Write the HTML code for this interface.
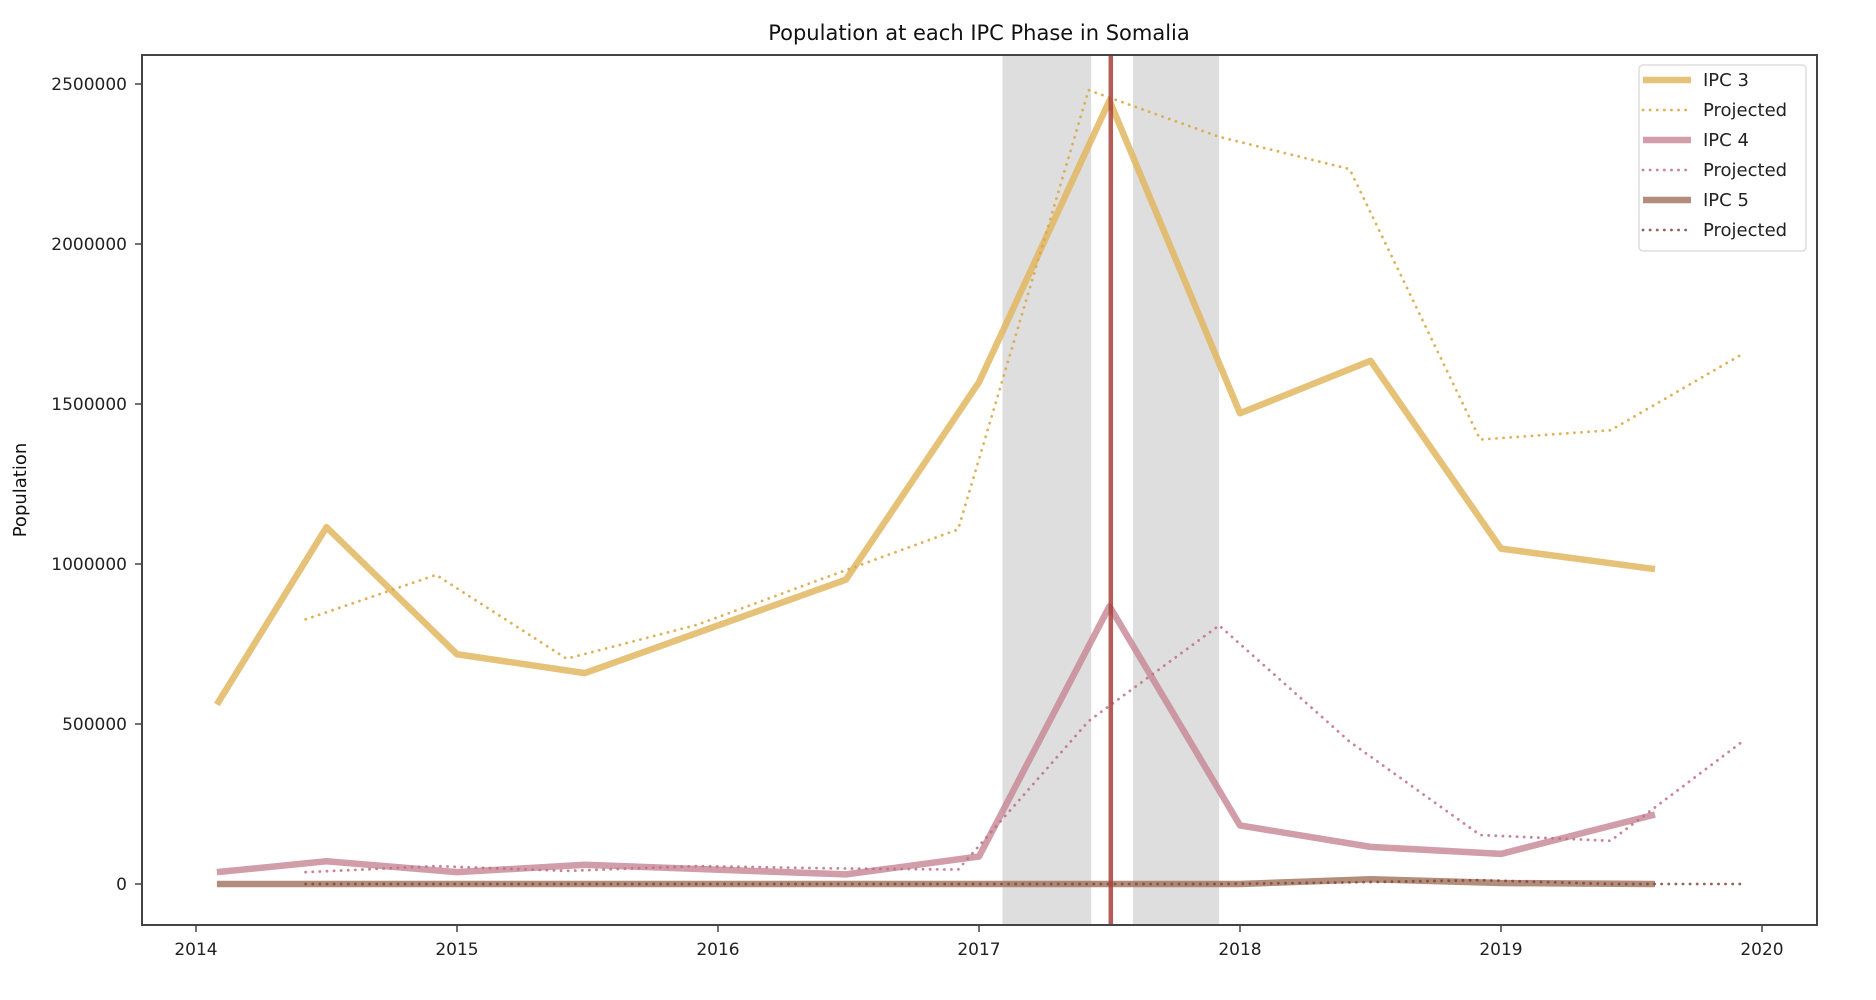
<!DOCTYPE html>
<html><head><meta charset="utf-8"><style>
body{margin:0;background:#fff;}
svg{display:block;font-family:"DejaVu Sans","Liberation Sans",sans-serif;}
</style></head><body>
<svg id="chart" width="1876" height="1000" viewBox="0 0 1876 1000">
<rect width="1876" height="1000" fill="#fff"/>
<text x="979" y="40" text-anchor="middle" font-size="21" fill="#111">Population at each IPC Phase in Somalia</text>
<g id="spans"></g>
<g id="grid"></g>
<g id="series"></g>
<rect x="142" y="55" width="1675" height="870" fill="none" stroke="#444" stroke-width="2"/>
<g id="ticks"></g>
<text transform="translate(26,490) rotate(-90)" text-anchor="middle" font-size="18" fill="#111">Population</text>
<g id="legend">
<rect x="1639" y="65" width="167" height="186" rx="4" fill="#fff" fill-opacity="0.85" stroke="#ddd" stroke-width="1.5"/>
</g>
</svg>
<script>
const solidYears3=[2014.08,2014.5,2015.0,2015.49,2016.49,2017.0,2017.5,2018.0,2018.5,2019.0,2019.59];
const ipc3=[561000,1115000,718000,659000,951000,1568000,2448000,1471000,1635000,1048000,984000];
const ipc4=[37000,71000,37000,60000,30000,86000,868000,183000,116000,94000,217000];
const ipc5=[0,0,0,0,0,0,0,0,15000,3000,0];
const projYears=[2014.42,2014.92,2015.42,2015.92,2016.42,2016.92,2017.42,2017.92,2018.42,2018.92,2019.42,2019.92];
const proj3=[827000,966000,704000,810000,960000,1108000,2481000,2335000,2234000,1389000,1418000,1654000];
const proj4=[37000,56000,41000,56000,49000,45000,509000,808000,445000,153000,135000,442000];
const proj5=[0,0,0,0,0,0,0,0,5000,12000,0,0];
const spanRanges=[[2017.09,2017.43],[2017.59,2017.92]];
const markerYear=2017.505;
const xTicks=[2014,2015,2016,2017,2018,2019,2020];
const yTicks=[0,500000,1000000,1500000,2000000,2500000];
const NS="http://www.w3.org/2000/svg";
const X=y=>196+(y-2014)*261;
const Y=v=>884-v*(800/2500000);
function mk(tag,attrs,parent){const e=document.createElementNS(NS,tag);for(const k in attrs)e.setAttribute(k,attrs[k]);parent.appendChild(e);return e;}
const spans=document.getElementById('spans');
spanRanges.forEach((r,i)=>{
 const e=mk('rect',{x:X(r[0]),y:55,width:X(r[1])-X(r[0]),height:870,fill:'#808080','fill-opacity':0.26},spans);
 
 
});
const ser=document.getElementById('series');
function line(xs,vs,color,w,dash,name){
 const p=mk('polyline',{points:xs.map((x,i)=>X(x)+','+Y(vs[i])).join(' '),fill:'none',stroke:color,'stroke-width':w,'stroke-linejoin':'round','stroke-linecap':dash?'round':'butt'},ser);
 if(dash)p.setAttribute('stroke-dasharray',dash);
 
 
}
line(solidYears3,ipc3,'rgba(226,182,96,0.85)',6.5,null,'ipc3-line');
line(projYears,proj3,'rgba(220,168,70,0.9)',2.8,'0.1 7','ipc3-projected-line');
line(solidYears3,ipc4,'rgba(198,132,146,0.8)',6.5,null,'ipc4-line');
line(projYears,proj4,'rgba(192,110,130,0.85)',2.8,'0.1 7','ipc4-projected-line');
line(solidYears3,ipc5,'rgba(160,112,90,0.8)',6.5,null,'ipc5-line');
line(projYears,proj5,'rgba(130,70,60,0.85)',2.8,'0.1 7','ipc5-projected-line');
const ml=mk('line',{x1:X(markerYear),x2:X(markerYear),y1:55,y2:925,stroke:'#a8403c','stroke-opacity':0.85,'stroke-width':4.5},ser);


const tk=document.getElementById('ticks');
xTicks.forEach(t=>{
 mk('line',{x1:X(t),x2:X(t),y1:925,y2:932,stroke:'#444','stroke-width':1.5},tk);
 const e=mk('text',{x:X(t),y:955,'text-anchor':'middle','font-size':17,fill:'#222'},tk);
 e.textContent=t;
 
 
});
yTicks.forEach(t=>{
 mk('line',{x1:135,x2:142,y1:Y(t),y2:Y(t),stroke:'#444','stroke-width':1.5},tk);
 const e=mk('text',{x:127,y:Y(t)+6,'text-anchor':'end','font-size':17,fill:'#222'},tk);
 e.textContent=t;
 
 
});
const lg=document.getElementById('legend');
const legendItems=[['IPC 3','rgba(226,182,96,0.85)',6.5,null],['Projected','rgba(220,168,70,0.9)',2.8,'0.1 7'],['IPC 4','rgba(198,132,146,0.8)',6.5,null],['Projected','rgba(192,110,130,0.85)',2.8,'0.1 7'],['IPC 5','rgba(160,112,90,0.8)',6.5,null],['Projected','rgba(130,70,60,0.85)',2.8,'0.1 7']];
legendItems.forEach((it,i)=>{
 const y=80+i*30;
 const l=mk('line',{x1:1643,x2:1691,y1:y,y2:y,stroke:it[1],'stroke-width':it[2],'stroke-linecap':it[3]?'round':'butt'},lg);
 if(it[3])l.setAttribute('stroke-dasharray',it[3]);
 const t=mk('text',{x:1703,y:y+6,'font-size':18,fill:'#222'},lg);
 t.textContent=it[0];
 
 
});
</script>
</body></html>
